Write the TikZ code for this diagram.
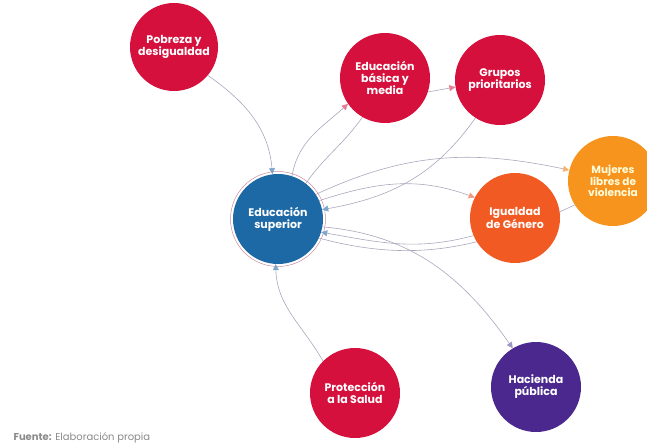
\documentclass[tikz,border=0pt]{standalone}
\usepackage{fontspec}
\setmainfont{Poppins}
\usetikzlibrary{arrows.meta,backgrounds}

\definecolor{rojo}{HTML}{D6103C}
\definecolor{azul}{HTML}{1D69A6}
\definecolor{coral}{HTML}{F15A22}
\definecolor{naranja}{HTML}{F7941E}
\definecolor{morado}{HTML}{4A288E}
\definecolor{enlace}{HTML}{A9A7BC}
\definecolor{anillo}{HTML}{C98A9E}
\definecolor{puntaazul}{HTML}{7FA7CE}
\definecolor{puntarosa}{HTML}{E67E98}
\definecolor{puntanaranja}{HTML}{F6B26A}
\definecolor{puntacoral}{HTML}{F29A80}
\definecolor{puntalila}{HTML}{9D96C4}
\definecolor{fuentegris}{HTML}{8A8A8A}

\begin{document}
\begin{tikzpicture}[x=1pt,y=1pt]
  \tikzstyle{tema_node}          = [shape = circle, minimum size = 90pt, inner sep = 0pt, align = center,
                                    text = white, font = \bfseries\fontsize{11}{12}\selectfont]
  \tikzstyle{tema_node__rojo}    = [tema_node, fill = rojo]
  \tikzstyle{tema_node__azul}    = [tema_node, fill = azul]
  \tikzstyle{tema_node__coral}   = [tema_node, fill = coral]
  \tikzstyle{tema_node__naranja} = [tema_node, fill = naranja, text = white!85!yellow]
  \tikzstyle{tema_node__morado}  = [tema_node, fill = morado]
  \tikzstyle{tema_link}          = [draw = enlace, line width = 0.6pt]
  \tikzstyle{tema_link__azul}    = [tema_link, -{Triangle[length=6pt, width=6pt, color=puntaazul]}]
  \tikzstyle{tema_link__rosa}    = [tema_link, -{Triangle[length=6pt, width=6pt, color=puntarosa]}]
  \tikzstyle{tema_link__naranja} = [tema_link, -{Triangle[length=6pt, width=6pt, color=puntanaranja]}]
  \tikzstyle{tema_link__coral}   = [tema_link, -{Triangle[length=6pt, width=6pt, color=puntacoral]}]
  \tikzstyle{tema_link__lila}    = [tema_link, -{Triangle[length=6pt, width=6pt, color=puntalila]}]

  \clip (0,0) rectangle (647,-445);

  \node[tema_node__rojo, minimum size = 88pt] at (174, -47) (pob) {Pobreza y\\desigualdad};
  \node[tema_node__rojo]    at (385, -78)  (eb)  {Educación\\básica y\\media};
  \node[tema_node__rojo]    at (500, -80)  (gru) {Grupos\\prioritarios};
  \node[tema_node__azul]    at (278,-219)  (es)  {Educación\\superior};
  \node[tema_node__naranja, font = \bfseries\fontsize{10.5}{11.5}\selectfont]
                            at (613,-181)  (muj) {Mujeres\\libres de\\violencia};
  \node[tema_node__coral]   at (515,-218)  (igu) {Igualdad\\de Género};
  \node[tema_node__rojo]    at (355,-393)  (pro) {Protección\\a la Salud};
  \node[tema_node__morado]  at (536,-387)  (hac) {Hacienda\\pública};

  \node[anchor = base west, text = fuentegris, font = \fontsize{10}{11}\selectfont]
    at (10,-440) (fuente) {\textbf{Fuente:} Elaboración propia};

  \begin{pgfonlayer}{background}
    \draw[draw = anillo, line width = 0.5pt] (es.center) circle (47.5pt);

    \draw (pob.-40) edge[tema_link__azul, out=-35, in=95]  (es.97)
          (es.72)   edge[tema_link__rosa, out=80, in=222]  (eb.215)
          (eb.-18)  edge[tema_link__rosa, out=10, in=190]  (gru.189)
          (gru.237) edge[tema_link__azul, out=235, in=10]  (es.12)
          (es.33)   edge[tema_link__naranja, out=25, in=168] (muj.166)
          (es.24)   edge[tema_link__coral, out=18, in=160] (igu.153)
          (igu.203) edge[tema_link__azul, out=195, in=-10] (es.-17)
          (es.-10)  edge[tema_link__lila, out=-5, in=125]  (hac.121)
          (pro.135) edge[tema_link__azul, out=120, in=-88] (es.-93)
    ;

    \draw (eb.240)  edge[tema_link, out=235, in=55]  (es.52)
          (muj.212) edge[tema_link, out=205, in=-15] (es.-25)
    ;
  \end{pgfonlayer}
\end{tikzpicture}
\end{document}
